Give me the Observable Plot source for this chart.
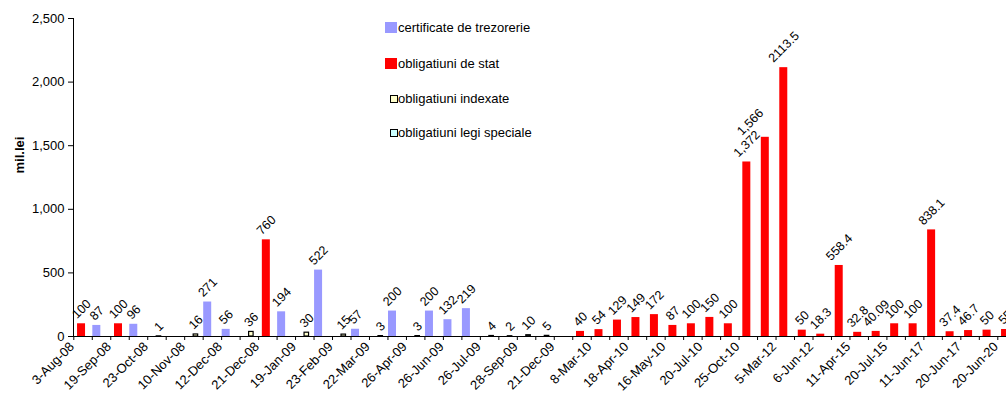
<!DOCTYPE html>
<html>
<head>
<meta charset="utf-8">
<script src="https://cdn.jsdelivr.net/npm/d3@7"></script>
<script src="https://cdn.jsdelivr.net/npm/@observablehq/plot@0.6"></script>
<style>
  html, body { margin: 0; padding: 0; background: #fff; overflow: hidden; }
  #wrap { position: relative; width: 1006px; height: 400px; font-family: "Liberation Sans", Arial, sans-serif; color: #000; }
  #legend { position: absolute; left: 0; top: 0; font-size: 13px; }
  .sw { position: absolute; box-sizing: border-box; }
  .lt { position: absolute; line-height: 16px; white-space: nowrap; }
</style>
</head>
<body>
<div id="wrap"></div>
<script>
// x-axis tick labels (one for every second category)
const dates = ["3-Aug-08","19-Sep-08","23-Oct-08","10-Nov-08","12-Dec-08","21-Dec-08","19-Jan-09",
  "23-Feb-09","22-Mar-09","26-Apr-09","26-Jun-09","26-Jul-09","28-Sep-09","21-Dec-09","8-Mar-10",
  "18-Apr-10","16-May-10","20-Jul-10","25-Oct-10","5-Mar-12","6-Jun-12","11-Apr-15","20-Jul-15",
  "11-Jun-17","20-Jun-17","20-Jun-20"];
const nCat = 51; // category slots (last one cut at the right edge)

// series: [category index, value]
const certificate = [[1,87],[3,96],[7,271],[8,56],[11,194],[13,522],[15,57],[17,200],[19,200],[20,132],[21,219]];
const stat = [[0,100],[2,100],[10,760],[27,40],[28,54],[29,129],[30,149],[31,172],[32,87],[33,100],[34,150],
  [35,100],[36,1372],[37,1566],[38,2113.5],[39,50],[40,18.3],[41,558.4],[42,32.8],[43,40.09],[44,100],
  [45,100],[46,838.1],[47,37.4],[48,46.7],[49,50],[50,55]];
const indexate = [[6,16],[9,36],[12,30],[14,15]];
const legiSpeciale = [[4,1],[16,3],[18,3],[22,4],[23,2],[24,10],[25,5]];
const yTicks = [0,500,1000,1500,2000,2500];

const seriesNames = ["certificate de trezorerie","obligatiuni de stat","obligatiuni indexate","obligatiuni legi speciale"];
const seriesColors = ["#9999FF","#FF0000","#FFFFCC","#CCFFFF"];

const bw = 18.48, x0 = 73.3;
const fmt = v => Number.isInteger(v) ? d3.format(",")(v) : String(v);
const LFS = 12.5;
const textW = s => LFS * [...s].reduce((a, c) => a + (/[0-9]/.test(c) ? 0.556 : 0.278), 0);
const nudge = {37: [-15, 3]};

function barMarks(rows, color, width, off, stroke) {
  const side = (bw - width) / 2;
  return Plot.barY(rows, {
    x: r => r[0], y: r => r[1], fill: color,
    stroke: stroke || "none", strokeWidth: 1.2,
    insetLeft: side + off, insetRight: side - off
  });
}
function labelMarks(rows, off) {
  const groups = d3.groups(rows, r => {
    const s = fmt(r[1]);
    const n = nudge[r[0]] || [0, 0];
    return [Math.round(textW(s)), n[0], n[1]].join("|");
  });
  return groups.map(([key, g]) => {
    const [w, nx, ny] = key.split("|").map(Number);
    return Plot.text(g, {
      x: r => r[0], y: r => r[1], text: r => fmt(r[1]),
      rotate: -45, textAnchor: "middle", lineAnchor: "middle",
      fontSize: LFS, fill: "#000",
      dx: off + nx, dy: -(4 + (w + 0.72 * LFS) * 0.3535) + ny
    });
  });
}

const plot = Plot.plot({
  width: 1006, height: 400,
  marginLeft: 73, marginRight: 0, marginTop: 18, marginBottom: 64,
  x: {type: "band", domain: d3.range(nCat), range: [x0, x0 + nCat * bw], padding: 0, round: false, axis: null},
  y: {domain: [0, 2500], axis: null},
  style: {fontFamily: "'Liberation Sans', Arial, sans-serif", fontSize: "13px", color: "#000", background: "#fff", overflow: "hidden"},
  marks: [
    Plot.axisY({ticks: yTicks, tickFormat: d3.format(","), tickSize: 5, tickPadding: 4, fontSize: 13, label: null}),
    Plot.text(["mil.lei"], {frameAnchor: "left", dx: -54, dy: -4, rotate: -90, fontWeight: "bold", fontSize: 13, fill: "#000"}),
    barMarks(certificate, seriesColors[0], 8, -4.7),
    barMarks(stat, seriesColors[1], 8, -1.5),
    barMarks(indexate, seriesColors[2], 4.5, 2, "#000"),
    barMarks(legiSpeciale, seriesColors[3], 4.5, 2, "#000"),
    ...labelMarks(certificate, -4.7),
    ...labelMarks(stat, -1.5),
    ...labelMarks(indexate, 2),
    ...labelMarks(legiSpeciale, 2),
    Plot.ruleY([0], {stroke: "#000"}),
    Plot.ruleX([0], {x: d => d, dx: -bw / 2 - 0.3, stroke: "#000"}),
    Plot.ruleX(d3.range(nCat), {x: d => d, y1: 0, y2: 0, dx: -bw / 2, insetBottom: -4, stroke: "#000"}),
    Plot.axisX({ticks: d3.range(0, nCat, 2), tickFormat: i => dates[i / 2], tickRotate: -45,
      tickSize: 0, tickPadding: 8, dx: -11, fontSize: 13, label: null})
  ]
});

const wrap = document.getElementById("wrap");
wrap.appendChild(plot);

// legend (inside the plot area, as in the original)
const legend = document.createElement("div");
legend.id = "legend";
const rows = [
  {y: 28, sw: {l: 385, t: 22, w: 12, h: 11, border: "none"}},
  {y: 64, sw: {l: 385, t: 58, w: 12, h: 11, border: "none"}},
  {y: 99, sw: {l: 390, t: 95, w: 8, h: 8, border: "1.5px solid #000"}},
  {y: 133, sw: {l: 390, t: 129, w: 8, h: 8, border: "1.5px solid #000"}}
];
rows.forEach((r, i) => {
  const s = document.createElement("div");
  s.className = "sw";
  Object.assign(s.style, {left: r.sw.l + "px", top: r.sw.t + "px", width: r.sw.w + "px", height: r.sw.h + "px",
    background: seriesColors[i], border: r.sw.border});
  legend.appendChild(s);
  const t = document.createElement("div");
  t.className = "lt";
  t.textContent = seriesNames[i];
  Object.assign(t.style, {left: "398px", top: (r.y - 8) + "px"});
  legend.appendChild(t);
});
wrap.appendChild(legend);
</script>
</body>
</html>
